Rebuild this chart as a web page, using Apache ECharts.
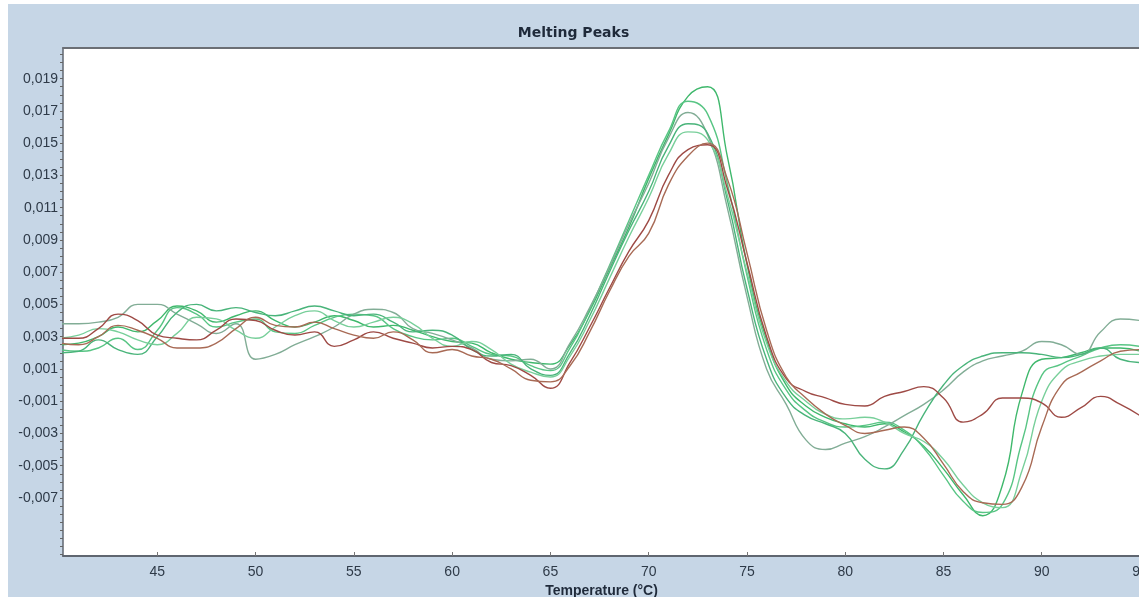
<!DOCTYPE html>
<html>
<head>
<meta charset="utf-8">
<script src="https://cdn.jsdelivr.net/npm/echarts@6/dist/echarts.min.js"></script>
<style>
html,body{margin:0;padding:0;background:#fff;width:1139px;height:600px;overflow:hidden;}
#chart{position:absolute;left:8px;top:4px;width:1131px;height:593px;}
</style>
</head>
<body>
<div id="chart"></div>
<script>
// Temperature samples (°C)
const temps = [40,41,42,43,44,45,46,47,48,49,50,51,52,53,54,55,56,57,58,59,60,61,62,63,64,65,66,67,68,69,70,71,72,73,74,75,76,77,78,79,80,81,82,83,84,85,86,87,88,89,90,91,92,93,94,95];

// Melting peak curves (-dF/dT)
const sampleG1 = [0.0025,0.0026,0.0030,0.0036,0.0033,0.0040,0.0049,0.0046,0.0039,0.0043,0.0046,0.0040,0.0036,0.0039,0.0043,0.0040,0.0036,0.0037,0.0034,0.0030,0.0027,0.0026,0.0020,0.0016,0.0014,0.0013,0.0025,0.0046,0.0072,0.0098,0.0128,0.0155,0.0179,0.0185,0.0142,0.0075,0.0028,0.0000,-0.0013,-0.0020,-0.0024,-0.0026,-0.0024,-0.0029,-0.0038,-0.0052,-0.0068,-0.0081,-0.0062,-0.0005,0.0016,0.0017,0.0020,0.0023,0.0023,0.0021];
const sampleG2 = [0.0022,0.0021,0.0023,0.0029,0.0022,0.0034,0.0048,0.0044,0.0036,0.0039,0.0041,0.0033,0.0032,0.0037,0.0042,0.0044,0.0043,0.0035,0.0030,0.0028,0.0029,0.0024,0.0019,0.0018,0.0012,0.0009,0.0023,0.0047,0.0074,0.0102,0.0130,0.0157,0.0176,0.0168,0.0125,0.0068,0.0022,-0.0003,-0.0016,-0.0023,-0.0026,-0.0025,-0.0023,-0.0028,-0.0039,-0.0056,-0.0072,-0.0079,-0.0074,-0.0035,0.0006,0.0013,0.0018,0.0023,0.0025,0.0024];
const sampleG3 = [0.0038,0.0038,0.0039,0.0042,0.0050,0.0050,0.0044,0.0038,0.0032,0.0038,0.0016,0.0019,0.0025,0.0030,0.0036,0.0044,0.0047,0.0045,0.0035,0.0032,0.0028,0.0023,0.0016,0.0015,0.0016,0.0010,0.0026,0.0048,0.0073,0.0100,0.0125,0.0153,0.0169,0.0155,0.0110,0.0055,0.0010,-0.0012,-0.0034,-0.0040,-0.0036,-0.0032,-0.0026,-0.0019,-0.0012,-0.0003,0.0008,0.0015,0.0018,0.0021,0.0027,0.0025,0.0019,0.0033,0.0041,0.0040];
const sampleG4 = [0.0020,0.0021,0.0028,0.0022,0.0019,0.0030,0.0045,0.0050,0.0046,0.0048,0.0045,0.0043,0.0046,0.0049,0.0046,0.0043,0.0044,0.0039,0.0033,0.0034,0.0031,0.0022,0.0018,0.0019,0.0010,0.0006,0.0020,0.0043,0.0070,0.0096,0.0120,0.0148,0.0162,0.0156,0.0115,0.0060,0.0016,-0.0008,-0.0019,-0.0024,-0.0030,-0.0046,-0.0052,-0.0040,-0.0018,0.0000,0.0012,0.0018,0.0020,0.0020,0.0019,0.0017,0.0019,0.0023,0.0016,0.0014];
const sampleG5 = [0.0029,0.0031,0.0035,0.0033,0.0028,0.0025,0.0032,0.0042,0.0041,0.0034,0.0029,0.0036,0.0043,0.0046,0.0040,0.0036,0.0039,0.0042,0.0038,0.0029,0.0024,0.0027,0.0022,0.0013,0.0008,0.0005,0.0018,0.0040,0.0066,0.0092,0.0116,0.0143,0.0157,0.0152,0.0118,0.0070,0.0026,0.0002,-0.0010,-0.0018,-0.0021,-0.0020,-0.0023,-0.0030,-0.0035,-0.0046,-0.0062,-0.0073,-0.0076,-0.0053,-0.0010,0.0009,0.0015,0.0018,0.0019,0.0019];
const sampleR1 = [0.0029,0.0029,0.0035,0.0044,0.0040,0.0031,0.0029,0.0028,0.0034,0.0041,0.0040,0.0034,0.0031,0.0033,0.0024,0.0028,0.0033,0.0029,0.0026,0.0023,0.0024,0.0022,0.0014,0.0012,0.0006,-0.0002,0.0014,0.0036,0.0060,0.0083,0.0102,0.0130,0.0146,0.0149,0.0122,0.0076,0.0030,0.0004,-0.0004,-0.0008,-0.0012,-0.0013,-0.0007,-0.0004,-0.0001,-0.0008,-0.0023,-0.0018,-0.0008,-0.0008,-0.0011,-0.0020,-0.0014,-0.0007,-0.0012,-0.0019];
const sampleR2 = [0.0026,0.0025,0.0030,0.0037,0.0034,0.0029,0.0023,0.0023,0.0026,0.0035,0.0042,0.0037,0.0036,0.0039,0.0035,0.0031,0.0029,0.0033,0.0028,0.0020,0.0022,0.0018,0.0016,0.0010,0.0003,0.0002,0.0012,0.0033,0.0058,0.0080,0.0094,0.0124,0.0142,0.0150,0.0128,0.0082,0.0034,0.0005,-0.0008,-0.0018,-0.0025,-0.0030,-0.0028,-0.0026,-0.0033,-0.0049,-0.0066,-0.0073,-0.0074,-0.0063,-0.0026,0.0000,0.0008,0.0015,0.0021,0.0022];

// Tick labels
const xTickValues = [45,50,55,60,65,70,75,80,85,90,95];
const yTickValues = [-0.007,-0.005,-0.003,-0.001,0.001,0.003,0.005,0.007,0.009,0.011,0.013,0.015,0.017,0.019];

const seriesList = [
  {name:'G1', values:sampleG1, color:'#3fb86c'},
  {name:'G2', values:sampleG2, color:'#58c584'},
  {name:'G3', values:sampleG3, color:'#82ad96'},
  {name:'G4', values:sampleG4, color:'#49b47a'},
  {name:'G5', values:sampleG5, color:'#78cf9a'},
  {name:'R1', values:sampleR1, color:'#9e4a45'},
  {name:'R2', values:sampleR2, color:'#a86a55'}
];

const yMinorTicks = [];
for (let k = -21; k <= 41; k++) yMinorTicks.push(k / 2000);

const fontFam = '"Liberation Sans", Arial, sans-serif';
const chart = echarts.init(document.getElementById('chart'));
chart.setOption({
  backgroundColor: '#c6d6e6',
  animation: false,
  title: {
    text: 'Melting Peaks',
    left: 'center',
    top: 17,
    textStyle: {fontFamily: '"DejaVu Sans", sans-serif', fontWeight: 'bold', fontSize: 14, color: '#1f2a3a'}
  },
  grid: {left: 55, top: 44, right: -1, bottom: 41, show: true, backgroundColor: '#ffffff', borderWidth: 0,
    containLabel: false, outerBoundsMode: 'none'},
  xAxis: [{
    type: 'value', min: 40.2, max: 95,
    name: 'Temperature (°C)', nameLocation: 'middle', nameGap: 23,
    nameTextStyle: {fontFamily: fontFam, fontWeight: 'bold', fontSize: 14, color: '#1f2a3a'},
    axisLine: {show: true, onZero: false, lineStyle: {color: '#5f6670', width: 2}},
    axisTick: {show: true, inside: true, length: 4, customValues: xTickValues, lineStyle: {color: '#777'}},
    axisLabel: {customValues: xTickValues, margin: 9, fontFamily: fontFam, fontSize: 14, color: '#2e3a48'},
    splitLine: {show: false}
  }, {
    type: 'value', position: 'top', min: 40.2, max: 95,
    axisLine: {show: true, onZero: false, lineStyle: {color: '#6b6f75', width: 2}},
    axisTick: {show: false}, axisLabel: {show: false}, splitLine: {show: false}
  }],
  yAxis: {
    type: 'value', min: -0.0106, max: 0.0209,
    axisLine: {show: true, onZero: false, lineStyle: {color: '#5f6670', width: 1.5}},
    axisTick: {show: true, length: 3, customValues: yMinorTicks, lineStyle: {color: '#666'}},
    axisLabel: {customValues: yTickValues, margin: 5, fontFamily: fontFam, fontSize: 14, color: '#2e3a48',
      formatter: v => v.toFixed(3).replace('.', ',')},
    splitLine: {show: false}
  },
  series: seriesList.map(s => ({
    name: s.name,
    type: 'line',
    smooth: 0.5,
    showSymbol: false,
    symbol: 'none',
    clip: true,
    lineStyle: {color: s.color, width: 1.4},
    data: temps.map((t, i) => [t, s.values[i]])
  }))
});
</script>
</body>
</html>
